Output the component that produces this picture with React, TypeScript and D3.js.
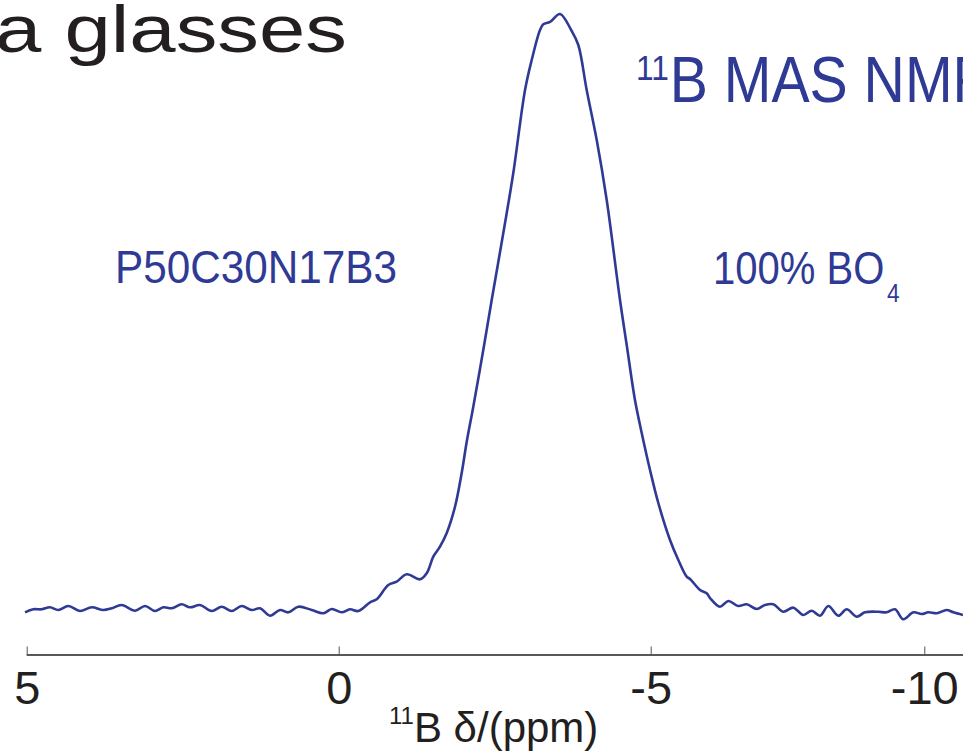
import React, { useEffect, useRef } from "react";
import * as d3 from "d3";

// 11B chemical shift (ppm) and normalised intensity
const shiftPpm = [
  5.027, 4.894, 4.76, 4.627, 4.494, 4.333, 4.146, 3.958, 3.772, 3.638, 3.478, 3.264, 3.104, 2.944,
  2.811, 2.676, 2.516, 2.383, 2.223, 2.035, 1.875, 1.715, 1.554, 1.394, 1.261, 1.101, 0.941, 0.808,
  0.647, 0.433, 0.247, 0.112, -0.048, -0.181, -0.314, -0.502, -0.609, -0.795, -0.929, -1.09, -1.303,
  -1.41, -1.516, -1.623, -1.731, -1.864, -1.971, -2.051, -2.157, -2.317, -2.452, -2.638, -2.798,
  -2.986, -3.093, -3.226, -3.279, -3.386, -3.546, -3.734, -3.84, -3.974, -4.135, -4.295, -4.508,
  -4.615, -4.748, -4.856, -4.989, -5.139, -5.353, -5.505, -5.658, -5.719, -5.901, -6.023, -6.084,
  -6.266, -6.418, -6.601, -6.754, -6.937, -7.089, -7.24, -7.423, -7.606, -7.789, -7.942, -8.094,
  -8.246, -8.428, -8.582, -8.764, -8.916, -9.159, -9.313, -9.464, -9.616, -9.799, -9.953, -10.073,
  -10.227, -10.41, -10.53, -10.707,
];
const intensity = [
  -0.39, 0.12, 0.12, 0.45, 0.0, 0.67, -0.17, 0.45, 0.0, 0.29, 0.84, -0.12, 0.67, -0.17,
  0.45, 0.29, 0.96, 0.45, 0.84, -0.17, 0.55, -0.17, 0.67, 0.0, 0.29, -0.96, 0.0, -0.39,
  0.55, 0.0, -0.55, 0.17, -0.39, 0.12, -0.17, 1.29, 1.8, 4.19, 4.75, 5.99, 5.15,
  6.16, 8.94, 10.62, 12.92, 17.33, 22.99, 28.2, 34.11, 43.62, 52.01, 63.26, 73.32,
  87.25, 92.28, 97.32, 98.27, 98.66, 100, 97.15, 94.8, 87.25, 78.86, 68.79, 52.01,
  44.5, 35.23, 29.7, 23.49, 17.95, 11.74, 8.39, 5.59, 5.2, 3.36, 2.8, 2.01,
  0.55, 1.51, 0.67, 0.96, 0.17, 0.84, 0.96, -0.29, 0.39, -0.84, -0.12, -0.96,
  0.67, -0.96, 0.12, -1.12, -0.39, -0.29, -0.39, 0.12, -1.56, -0.39, -0.67, -0.39,
  -0.55, 0.0, -0.39, -0.84,
];

// axis break points as they appear on the figure
const axisPpm = [5, 0, -5, -10];
const tickLabels = ["5", "0", "-5", "-10"];

const W = 963;
const H = 752;
const BLUE = "#2f3a94";
const INK = "#231f20";
const FONT = "'Liberation Sans', Arial, Helvetica, sans-serif";

export default function App() {
  const axisRef = useRef<SVGGElement>(null);

  const x = d3.scaleLinear().domain(axisPpm).range([26.7, 338.7, 650.7, 924.3]);
  const y = d3.scaleLinear().domain([0, 100]).range([610, 14]);
  const axisY = 655;

  const data = shiftPpm.map((p, i) => [p, intensity[i]] as [number, number]);
  const line = d3
    .line<[number, number]>()
    .x((d) => x(d[0]))
    .y((d) => y(d[1]))
    .curve(d3.curveCatmullRom.alpha(0.5));

  useEffect(() => {
    if (!axisRef.current) return;
    const g = d3.select(axisRef.current);
    g.selectAll("*").remove();
    const axis = d3
      .axisBottom(x)
      .tickValues(axisPpm)
      .tickFormat((d, i) => tickLabels[i])
      .tickSize(-8.5)
      .tickSizeOuter(0)
      .tickPadding(15.5);
    g.call(axis as any);
    g.select(".domain").remove();
    g.selectAll(".tick line").attr("stroke", "#555").attr("stroke-width", 1);
    g.selectAll(".tick text")
      .attr("fill", INK)
      .attr("font-size", 47)
      .attr("font-family", FONT);
  }, []);

  return (
    <svg
      width={W}
      height={H}
      style={{ position: "absolute", left: 0, top: 0, background: "#fff" }}
    >
      <rect x={0} y={0} width={W} height={H} fill="#fff" />
      <defs>
        <clipPath id="plotclip">
          <rect x={0} y={0} width={W} height={H} />
        </clipPath>
      </defs>

      {/* title fragment */}
      <text
        x={-5}
        y={52}
        fontSize={67}
        fontFamily={FONT}
        fill={INK}
        textLength={352}
        lengthAdjust="spacingAndGlyphs"
      >
        a glasses
      </text>

      {/* spectrum */}
      <path
        d={line(data) || ""}
        fill="none"
        stroke={BLUE}
        strokeWidth={2.6}
        strokeLinejoin="round"
        clipPath="url(#plotclip)"
      />

      {/* axis */}
      <line x1={x(5)} x2={W} y1={axisY} y2={axisY} stroke={INK} strokeWidth={1.4} />
      <g ref={axisRef} transform={`translate(0,${axisY})`} />

      {/* x-axis label */}
      <text x={389} y={741.7} fontFamily={FONT} fill={INK}>
        <tspan fontSize={24} dy={-18}>11</tspan>
        <tspan fontSize={42} dy={18}>B δ/(ppm)</tspan>
      </text>

      {/* annotations */}
      <text transform="translate(636,101.7) scale(0.88,1)" fontFamily={FONT} fill={BLUE}>
        <tspan fontSize={36} dy={-21.5}>11</tspan>
        <tspan fontSize={65} dy={21.5} dx={1}>B MAS NMR</tspan>
      </text>

      <text
        x={115}
        y={283.3}
        fontSize={45.5}
        fontFamily={FONT}
        fill={BLUE}
        textLength={282}
        lengthAdjust="spacingAndGlyphs"
      >
        P50C30N17B3
      </text>

      <text transform="translate(713,284) scale(0.87,1)" fontFamily={FONT} fill={BLUE}>
        <tspan fontSize={46}>100% BO</tspan>
        <tspan fontSize={26} dy={17.7} dx={3}>4</tspan>
      </text>
    </svg>
  );
}
